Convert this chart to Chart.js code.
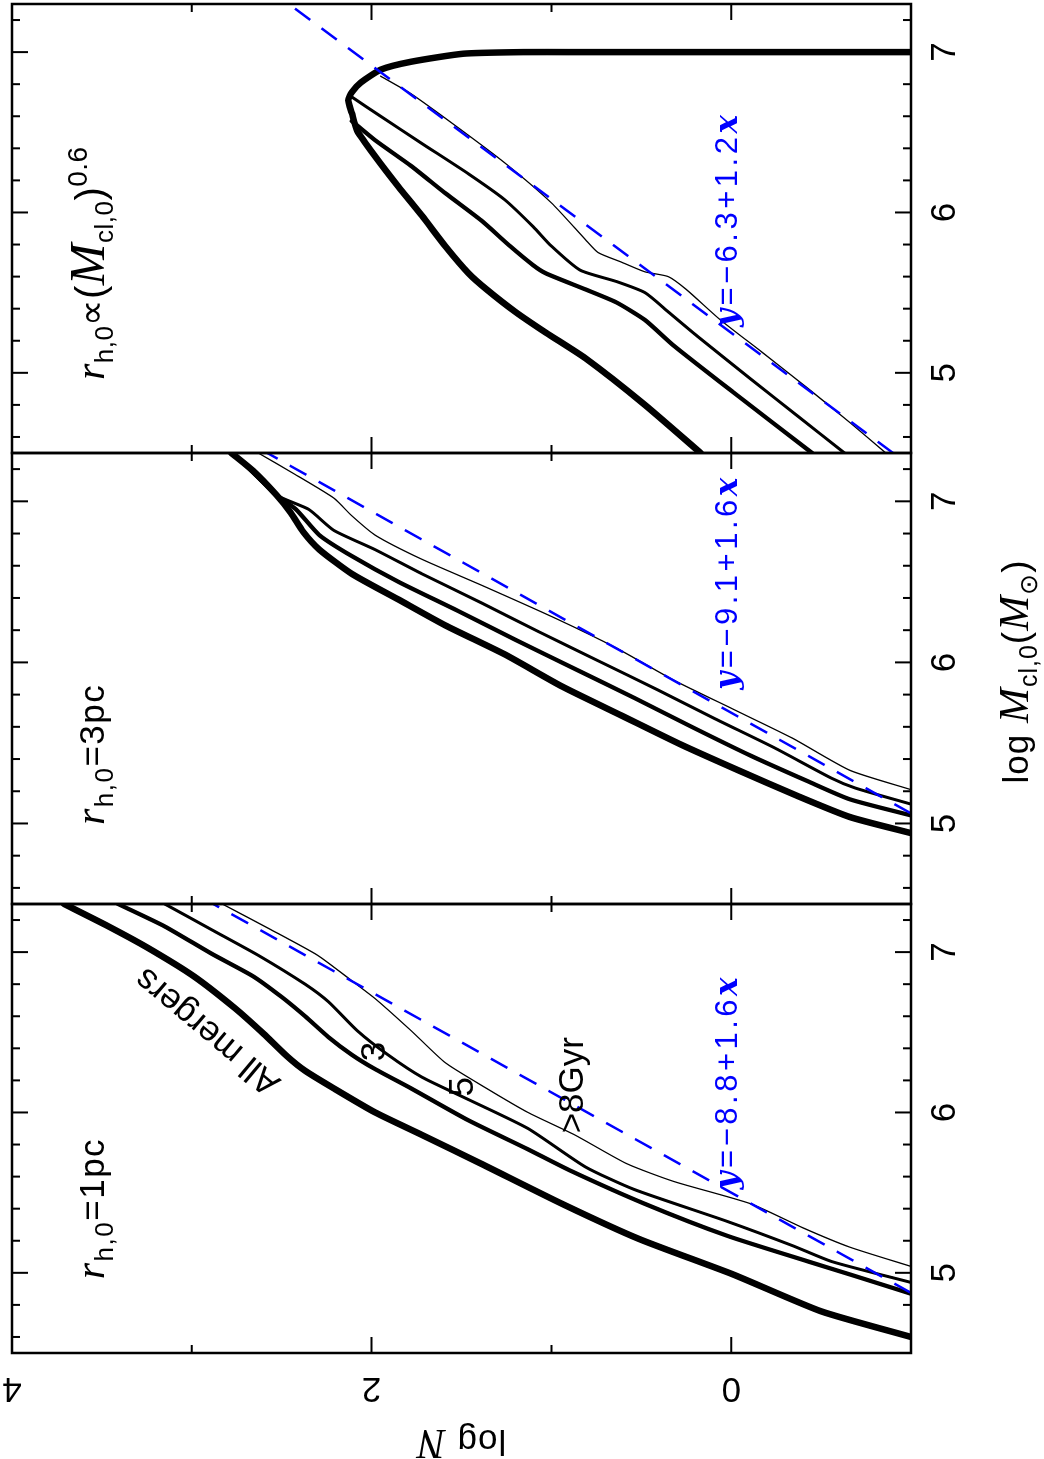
<!DOCTYPE html>
<html>
<head>
<meta charset="utf-8">
<script src="https://cdn.jsdelivr.net/npm/chart.js@4.4.1/dist/chart.umd.min.js"></script>
<style>
  html, body { margin: 0; padding: 0; background: #fff; overflow: hidden; width: 1044px; height: 1459px; }
  /* the figure is drawn landscape and turned a quarter turn, like the printed page */
  #fig { position: absolute; left: 0; top: 0; width: 1459px; height: 1044px;
         transform-origin: 0 0; transform: rotate(-90deg) translate(-1459px, 0); }
  #fig canvas { position: absolute; left: 0; top: 0; }
</style>
</head>
<body>
<div id="fig">
  <canvas id="p1" width="1459" height="1044"></canvas>
  <canvas id="p2" width="1459" height="1044"></canvas>
  <canvas id="p3" width="1459" height="1044"></canvas>
</div>
<script>
// ---- axis ticks ----
const massMajor = [5, 6, 7];
const massMinor = [4.6, 4.8, 5.2, 5.4, 5.6, 5.8, 6.2, 6.4, 6.6, 6.8, 7.2];
const massLabels = ['5', '6', '7'];
const numMajor = [0, 2, 4];
const numMinor = [1, 3];
const numLabels = ['0', '2', '4'];

// ---- r_h,0 = 1 pc ----
const pc1AllM = [7.30, 7.17, 7.03, 6.85, 6.65, 6.49, 6.35, 6.26, 6.15, 6.00, 5.86, 5.68, 5.43, 5.21, 4.99, 4.76, 4.60];
const pc1AllN = [3.71, 3.48, 3.25, 2.99, 2.76, 2.60, 2.47, 2.37, 2.21, 1.98, 1.72, 1.39, 0.94, 0.51, -0.01, -0.50, -1.00];
const pc1G3M = [7.30, 7.16, 6.99, 6.85, 6.72, 6.60, 6.47, 6.36, 6.27, 6.15, 5.95, 5.77, 5.64, 5.43, 5.23, 5.07, 4.99, 4.87];
const pc1G3N = [3.41, 3.15, 2.89, 2.66, 2.50, 2.37, 2.24, 2.11, 1.98, 1.78, 1.46, 1.13, 0.90, 0.48, 0.02, -0.43, -0.66, -1.00];
const pc1G5M = [7.30, 7.14, 6.98, 6.80, 6.69, 6.51, 6.36, 6.22, 6.08, 5.90, 5.66, 5.52, 5.32, 5.17, 5.07, 4.94];
const pc1G5N = [3.15, 2.89, 2.63, 2.37, 2.24, 2.08, 1.91, 1.72, 1.46, 1.13, 0.81, 0.54, 0.02, -0.34, -0.56, -1.00];
const pc1G8M = [7.30, 7.14, 6.98, 6.83, 6.71, 6.51, 6.31, 6.15, 6.00, 5.86, 5.68, 5.57, 5.43, 5.28, 5.16, 5.04];
const pc1G8N = [2.83, 2.56, 2.30, 2.12, 1.98, 1.78, 1.59, 1.36, 1.13, 0.87, 0.58, 0.32, -0.11, -0.40, -0.66, -1.00];
const pc1FitM = [4.875, 7.30];
const pc1FitN = [-1.00, 2.88];

// ---- r_h,0 = 3 pc ----
const pc3AllM = [7.30, 7.19, 7.04, 6.93, 6.81, 6.70, 6.55, 6.39, 6.23, 6.05, 5.85, 5.67, 5.49, 5.33, 5.17, 5.04, 4.94];
const pc3AllN = [2.78, 2.66, 2.53, 2.45, 2.38, 2.29, 2.11, 1.85, 1.59, 1.26, 0.94, 0.61, 0.28, -0.04, -0.37, -0.66, -1.00];
const pc3G3M = [7.30, 7.04, 6.95, 6.79, 6.66, 6.50, 6.32, 6.14, 5.96, 5.78, 5.60, 5.42, 5.26, 5.15, 5.05];
const pc3G3N = [2.77, 2.53, 2.42, 2.29, 2.11, 1.85, 1.52, 1.20, 0.87, 0.54, 0.22, -0.11, -0.43, -0.66, -1.00];
const pc3G5M = [7.30, 7.04, 6.95, 6.82, 6.70, 6.55, 6.37, 6.19, 6.01, 5.83, 5.65, 5.47, 5.28, 5.22, 5.12];
const pc3G5N = [2.77, 2.53, 2.35, 2.21, 1.98, 1.72, 1.39, 1.07, 0.74, 0.41, 0.09, -0.24, -0.56, -0.69, -1.00];
const pc3G8M = [7.30, 7.17, 7.02, 6.91, 6.79, 6.64, 6.48, 6.27, 6.09, 5.89, 5.71, 5.53, 5.33, 5.21];
const pc3G8N = [2.63, 2.43, 2.21, 2.11, 1.98, 1.72, 1.39, 0.97, 0.64, 0.32, -0.01, -0.34, -0.66, -1.00];
const pc3FitM = [5.0625, 7.30];
const pc3FitN = [-1.00, 2.58];

// ---- r_h,0 proportional to M^0.6 ----
const powAllM = [4.50, 4.80, 5.09, 5.25, 5.38, 5.52, 5.62, 5.79, 5.98, 6.16, 6.35, 6.51, 6.62, 6.70, 6.75, 6.81, 6.89, 6.94, 6.99, 7.00, 7.00, 7.00];
const powAllN = [0.17, 0.48, 0.81, 1.03, 1.20, 1.36, 1.46, 1.59, 1.72, 1.85, 1.98, 2.08, 2.11, 2.13, 2.11, 2.06, 1.95, 1.78, 1.49, 1.16, 0.90, -1.00];
const powG3M = [6.57, 6.45, 6.29, 6.12, 5.95, 5.79, 5.67, 5.62, 5.52, 5.44, 5.33, 5.17, 4.88, 4.50];
const powG3N = [2.11, 1.98, 1.78, 1.59, 1.39, 1.23, 1.10, 1.03, 0.81, 0.64, 0.48, 0.32, -0.01, -0.45];
const powG5M = [6.72, 6.60, 6.43, 6.24, 6.08, 5.91, 5.79, 5.64, 5.57, 5.50, 5.38, 5.23, 4.96, 4.73, 4.50];
const powG5N = [2.11, 1.95, 1.72, 1.46, 1.26, 1.10, 1.00, 0.84, 0.64, 0.48, 0.35, 0.19, -0.11, -0.37, -0.63];
const powG8M = [6.85, 6.74, 6.53, 6.31, 6.06, 5.83, 5.75, 5.69, 5.63, 5.60, 5.52, 5.33, 5.13, 4.90, 4.69, 4.50];
const powG8N = [1.95, 1.78, 1.52, 1.26, 1.00, 0.81, 0.74, 0.61, 0.48, 0.35, 0.25, 0.06, -0.17, -0.43, -0.66, -0.86];
const powFitM = [4.50, 7.30];
const powFitN = [-0.90, 2.46];

const SANS = "'Liberation Sans', Arial, sans-serif";
const sans = s => s + 'px ' + SANS;
const ital = s => 'italic ' + s + "px 'Liberation Serif', serif";
const fitIt = s => 'italic bold ' + s + "px 'DejaVu Serif', serif";
const BLUE = '#0000ff';

function pts(ms, ns) {
  return ms.map((m, i) => ({ x: m, y: ns[i] }));
}

function curve(ms, ns, w) {
  return { data: pts(ms, ns), borderColor: '#000', borderWidth: w, showLine: true,
           pointRadius: 0, tension: 0.2, clip: 0, borderCapStyle: 'round', borderJoinStyle: 'round' };
}

function fitLine(ms, ns) {
  return { data: pts(ms, ns), borderColor: BLUE, borderWidth: 2.5, borderDash: [19, 14],
           showLine: true, pointRadius: 0, tension: 0, clip: 0 };
}

// draw a run of text pieces: [text, font, dy]
function rich(ctx, x, y, parts, align, spacing) {
  ctx.letterSpacing = (spacing || 0) + 'px';
  let w = 0;
  parts.forEach(p => { ctx.font = p[1]; w += ctx.measureText(p[0]).width; });
  let cx = align === 'center' ? x - w / 2 : x;
  ctx.textAlign = 'left';
  parts.forEach(p => {
    ctx.font = p[1];
    ctx.fillText(p[0], cx, y + (p[2] || 0));
    cx += ctx.measureText(p[0]).width;
  });
  ctx.letterSpacing = '0px';
}

const framePlugin = {
  id: 'pgframe',
  afterDatasetsDraw(chart, args, o) {
    const ctx = chart.ctx, a = chart.chartArea;
    const xs = chart.scales.x, ys = chart.scales.y;
    ctx.save();
    ctx.strokeStyle = '#000';
    ctx.fillStyle = '#000';
    ctx.lineWidth = 2.5;
    ctx.strokeRect(a.left, a.top, a.right - a.left, a.bottom - a.top);

    // inward ticks on all four sides
    ctx.lineWidth = 2;
    ctx.beginPath();
    const mTick = (m, len) => {
      const x = xs.getPixelForValue(m);
      ctx.moveTo(x, a.bottom); ctx.lineTo(x, a.bottom - len);
      ctx.moveTo(x, a.top); ctx.lineTo(x, a.top + len);
    };
    const nTick = (n, len) => {
      const y = ys.getPixelForValue(n);
      ctx.moveTo(a.left, y); ctx.lineTo(a.left + len, y);
      ctx.moveTo(a.right, y); ctx.lineTo(a.right - len, y);
    };
    massMajor.forEach(m => mTick(m, 16));
    massMinor.forEach(m => mTick(m, 8));
    numMajor.forEach(n => nTick(n, 16));
    numMinor.forEach(n => nTick(n, 8));
    ctx.stroke();

    // mass tick labels
    ctx.font = sans(35);
    ctx.textAlign = 'center';
    ctx.textBaseline = 'alphabetic';
    massMajor.forEach((m, i) => ctx.fillText(massLabels[i], xs.getPixelForValue(m), a.bottom + 44));

    if (o.yAxis) {
      numMajor.forEach((n, i) => {
        ctx.save();
        ctx.translate(a.left - 25, ys.getPixelForValue(n));
        ctx.rotate(-Math.PI / 2);
        ctx.font = sans(35);
        ctx.textAlign = 'center';
        ctx.fillText(numLabels[i], 0, 0);
        ctx.restore();
      });
      ctx.save();
      ctx.translate(29, (a.top + a.bottom) / 2);
      ctx.rotate(-Math.PI / 2);
      rich(ctx, 0, 0, [['log ', sans(35)], ['N', ital(42)]], 'center', 1);
      ctx.restore();
    }

    if (o.xTitle) {
      rich(ctx, (a.left + a.right) / 2 + 7, a.bottom + 117,
        [['log ', sans(35)], ['M', ital(42)], ['cl,0', sans(25), 9], ['(', sans(37)],
         ['M', ital(42)], ['\u2299', sans(25), 9], [')', sans(37)]], 'center', 1);
    }

    // panel title
    rich(ctx, xs.getPixelForValue(o.title.at[0]), ys.getPixelForValue(o.title.at[1]), o.title.parts, 'left', o.title.sp);

    // fit label
    ctx.fillStyle = BLUE;
    rich(ctx, xs.getPixelForValue(o.fit.at[0]), ys.getPixelForValue(o.fit.at[1]), o.fit.parts, 'left', 3.5);
    ctx.fillStyle = '#000';

    // curve labels
    (o.notes || []).forEach(nt => {
      ctx.save();
      ctx.translate(xs.getPixelForValue(nt.at[0]), ys.getPixelForValue(nt.at[1]));
      ctx.rotate(-(nt.rot || 0) * Math.PI / 180);
      ctx.font = sans(35);
      ctx.textAlign = 'center';
      ctx.textBaseline = 'middle';
      ctx.fillText(nt.text, 0, 0);
      ctx.restore();
    });
    ctx.restore();
  }
};

function fitParts(a, b) {
  return [['y', fitIt(31)], ['=\u2212' + a + '+' + b, sans(31)], ['x', fitIt(31)]];
}

function makePanel(id, left, right, sets, opts) {
  new Chart(document.getElementById(id), {
    type: 'scatter',
    data: { datasets: sets },
    options: {
      responsive: false,
      animation: false,
      devicePixelRatio: 1,
      events: [],
      layout: { padding: { left: left, right: 1459 - right, top: 12, bottom: 133 } },
      scales: {
        x: { type: 'linear', min: 4.5, max: 7.3, display: false },
        y: { type: 'linear', min: -1, max: 4, display: false }
      },
      plugins: { legend: { display: false }, tooltip: { enabled: false }, pgframe: opts }
    },
    plugins: [framePlugin]
  });
}

const rTitle = rest => [['r', ital(42)], ['h,0', sans(26), 9]].concat(rest);

makePanel('p1', 106, 555, [
  fitLine(pc1FitM, pc1FitN),
  curve(pc1AllM, pc1AllN, 6.5),
  curve(pc1G3M, pc1G3N, 4.3),
  curve(pc1G5M, pc1G5N, 3),
  curve(pc1G8M, pc1G8N, 1.3)
], {
  yAxis: true,
  title: { at: [4.96, 3.49], sp: 1.5, parts: rTitle([['=1pc', sans(35)]]) },
  fit: { at: [5.52, -0.03], parts: fitParts('8.8', '1.6') },
  notes: [
    { text: 'All mergers', at: [6.51, 2.91], rot: 50 },
    { text: '3', at: [6.38, 1.98] },
    { text: '5', at: [6.16, 1.49] },
    { text: '>8Gyr', at: [6.17, 0.88] }
  ]
});

makePanel('p2', 555, 1006, [
  fitLine(pc3FitM, pc3FitN),
  curve(pc3AllM, pc3AllN, 6.5),
  curve(pc3G3M, pc3G3N, 4.3),
  curve(pc3G5M, pc3G5N, 3),
  curve(pc3G8M, pc3G8N, 1.3)
], {
  xTitle: true,
  title: { at: [4.99, 3.49], sp: 1.5, parts: rTitle([['=3pc', sans(35)]]) },
  fit: { at: [5.83, -0.03], parts: fitParts('9.1', '1.6') }
});

makePanel('p3', 1006, 1455, [
  fitLine(powFitM, powFitN),
  curve(powAllM, powAllN, 6.5),
  curve(powG3M, powG3N, 4.3),
  curve(powG5M, powG5N, 3),
  curve(powG8M, powG8N, 1.3)
], {
  title: { at: [4.955, 3.49], sp: 0.5, parts: rTitle([['\u221d', sans(37)], ['(', sans(40)], ['M', ital(50)], ['cl,0', sans(26), 9], [')', sans(40)], ['0.6', sans(28), -17]]) },
  fit: { at: [5.285, -0.03], parts: fitParts('6.3', '1.2') }
});
</script>
</body>
</html>
